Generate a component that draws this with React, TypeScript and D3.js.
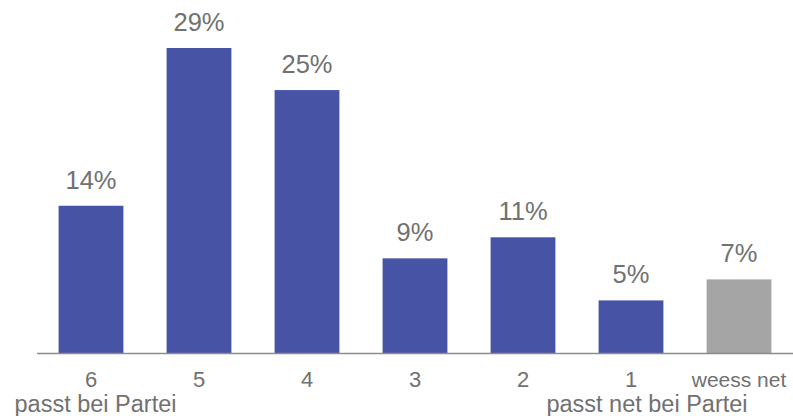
import React from "react";
import * as d3 from "d3";

const categories = ["6", "5", "4", "3", "2", "1", "weess net"];
const values = [14, 29, 25, 9, 11, 5, 7];
const valueLabels = ["14%", "29%", "25%", "9%", "11%", "5%", "7%"];
const endLabels = [
  { text: "passt bei Partei", category: "6" },
  { text: "passt net bei Partei", category: "1" },
];

const W = 793;
const H = 416;
const BASE = 353;

export default function App() {
  const x = d3
    .scaleBand<string>()
    .domain(categories)
    .range([37, 793])
    .paddingInner(0.4)
    .paddingOuter(0.2);
  const y = d3.scaleLinear().domain([0, 29]).range([BASE, 48]);
  const font = "'Liberation Sans', Arial, sans-serif";
  const textColor = "#717171";
  return (
    <svg
      width={W}
      height={H}
      style={{ position: "absolute", left: 0, top: 0, fontFamily: font }}
    >
      {categories.map((c, i) => (
        <g key={c}>
          <rect
            x={x(c)}
            y={y(values[i])}
            width={x.bandwidth()}
            height={BASE - y(values[i])}
            fill={c === "weess net" ? "#a5a5a5" : "#4753a5"}
          />
          <text
            x={(x(c) as number) + x.bandwidth() / 2}
            y={y(values[i]) - 17}
            textAnchor="middle"
            fontSize={25.5}
            fill={textColor}
          >
            {valueLabels[i]}
          </text>
          <text
            x={(x(c) as number) + x.bandwidth() / 2}
            y={387}
            textAnchor="middle"
            fontSize={c === "weess net" ? 21 : 22}
            fill={textColor}
          >
            {c}
          </text>
        </g>
      ))}
      <line x1={37} x2={793} y1={BASE + 0.5} y2={BASE + 0.5} stroke="#8c8c8c" strokeWidth={1.5} />
      {endLabels.map((l, i) => (
        <text
          key={l.text}
          x={(x(l.category) as number) + x.bandwidth() / 2 + (i === 0 ? 4.5 : 16)}
          y={412}
          textAnchor="middle"
          fontSize={23.5}
          fill={textColor}
        >
          {l.text}
        </text>
      ))}
    </svg>
  );
}
